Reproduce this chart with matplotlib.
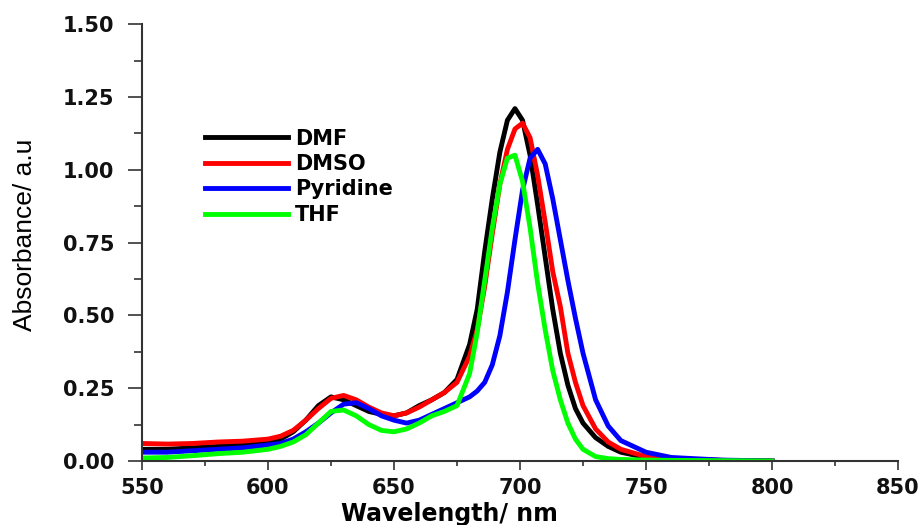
import numpy as np
import matplotlib.pyplot as plt
from matplotlib.ticker import MultipleLocator

plt.rcParams['font.family'] = ['DejaVu Sans']

# wavelength grid (nm)
wl = [550, 560, 570, 580, 590, 600, 605, 610, 615, 620, 625, 630, 635, 640,
      645, 650, 655, 660, 665, 670, 675, 680, 683, 686, 689, 692, 695, 698,
      701, 704, 707, 710, 713, 716, 719, 722, 725, 730, 735, 740, 750, 760,
      780, 800]

dmf = [0.04, 0.04, 0.045, 0.05, 0.055, 0.065, 0.075, 0.10, 0.14, 0.19, 0.22,
       0.21, 0.19, 0.17, 0.16, 0.155, 0.165, 0.19, 0.21, 0.235, 0.28, 0.40,
       0.52, 0.72, 0.90, 1.06, 1.17, 1.21, 1.17, 1.05, 0.88, 0.70, 0.52, 0.37,
       0.26, 0.18, 0.13, 0.08, 0.05, 0.03, 0.012, 0.006, 0.002, 0.0]

dmso = [0.06, 0.058, 0.06, 0.065, 0.068, 0.075, 0.085, 0.105, 0.14, 0.18,
        0.215, 0.225, 0.21, 0.185, 0.165, 0.155, 0.165, 0.185, 0.21, 0.235,
        0.27, 0.36, 0.45, 0.60, 0.78, 0.95, 1.07, 1.14, 1.16, 1.11, 0.98,
        0.82, 0.65, 0.53, 0.37, 0.27, 0.19, 0.11, 0.065, 0.04, 0.015, 0.007,
        0.002, 0.0]

pyridine = [0.03, 0.03, 0.035, 0.04, 0.045, 0.055, 0.06, 0.075, 0.10, 0.13,
            0.165, 0.195, 0.20, 0.18, 0.155, 0.14, 0.13, 0.14, 0.16, 0.18,
            0.20, 0.22, 0.24, 0.27, 0.33, 0.43, 0.58, 0.76, 0.93, 1.04, 1.07,
            1.02, 0.90, 0.76, 0.62, 0.49, 0.37, 0.21, 0.12, 0.07, 0.03, 0.012,
            0.003, 0.0]

thf = [0.01, 0.012, 0.018, 0.025, 0.03, 0.04, 0.05, 0.065, 0.09, 0.13, 0.17,
       0.175, 0.155, 0.125, 0.105, 0.10, 0.11, 0.13, 0.155, 0.17, 0.19, 0.30,
       0.44, 0.62, 0.80, 0.95, 1.04, 1.05, 0.96, 0.80, 0.61, 0.45, 0.31, 0.21,
       0.13, 0.075, 0.04, 0.015, 0.008, 0.005, 0.003, 0.002, 0.001, 0.0]

fig = plt.figure(figsize=(9.22, 5.25), dpi=100)
ax = fig.add_axes([0.154, 0.122, 0.820, 0.832])

lw = 3.5
ax.plot(wl, dmf, color='black', lw=lw, label='DMF')
ax.plot(wl, dmso, color='red', lw=lw, label='DMSO')
ax.plot(wl, pyridine, color='blue', lw=lw, label='Pyridine')
ax.plot(wl, thf, color='#00ff00', lw=lw, label='THF')

ax.set_xlim(550, 850)
ax.set_ylim(0, 1.5)
ax.xaxis.set_major_locator(MultipleLocator(50))
ax.xaxis.set_minor_locator(MultipleLocator(25))
ax.yaxis.set_major_locator(MultipleLocator(0.25))
ax.yaxis.set_minor_locator(MultipleLocator(0.125))
ax.yaxis.set_major_formatter(plt.FormatStrFormatter('%.2f'))

for s in ['top', 'right']:
    ax.spines[s].set_visible(False)
for s in ['left', 'bottom']:
    ax.spines[s].set_linewidth(1.5)
    ax.spines[s].set_color('#333333')
ax.tick_params(axis='y', which='major', direction='out', length=10, width=1.2,
               pad=10, labelsize=15, color='#333333')
ax.tick_params(axis='y', which='minor', direction='out', length=6, width=1.2,
               color='#333333')
ax.tick_params(axis='x', which='major', direction='out', length=6.5, width=1.2,
               pad=6, labelsize=15, color='#333333')
ax.tick_params(axis='x', which='minor', direction='out', length=3.5, width=1.2,
               color='#333333')
for lab in ax.get_xticklabels() + ax.get_yticklabels():
    lab.set_fontweight('bold')
    lab.set_color('#111111')

ax.set_xlabel('Wavelength/ nm', fontsize=17, fontweight='bold')
ax.xaxis.set_label_coords(0.406, -0.094)
ax.set_ylabel('Absorbance/ a.u', fontsize=19, family='Liberation Sans')
ax.yaxis.set_label_coords(-0.139, 0.517)

ax.legend(loc='upper left', bbox_to_anchor=(0.083, 0.761), frameon=False,
          borderaxespad=0, borderpad=0, handlelength=4.0, handletextpad=0.33,
          labelspacing=0.26, prop={'size': 15, 'weight': 'bold'})

fig.savefig('out.png', dpi=100)
